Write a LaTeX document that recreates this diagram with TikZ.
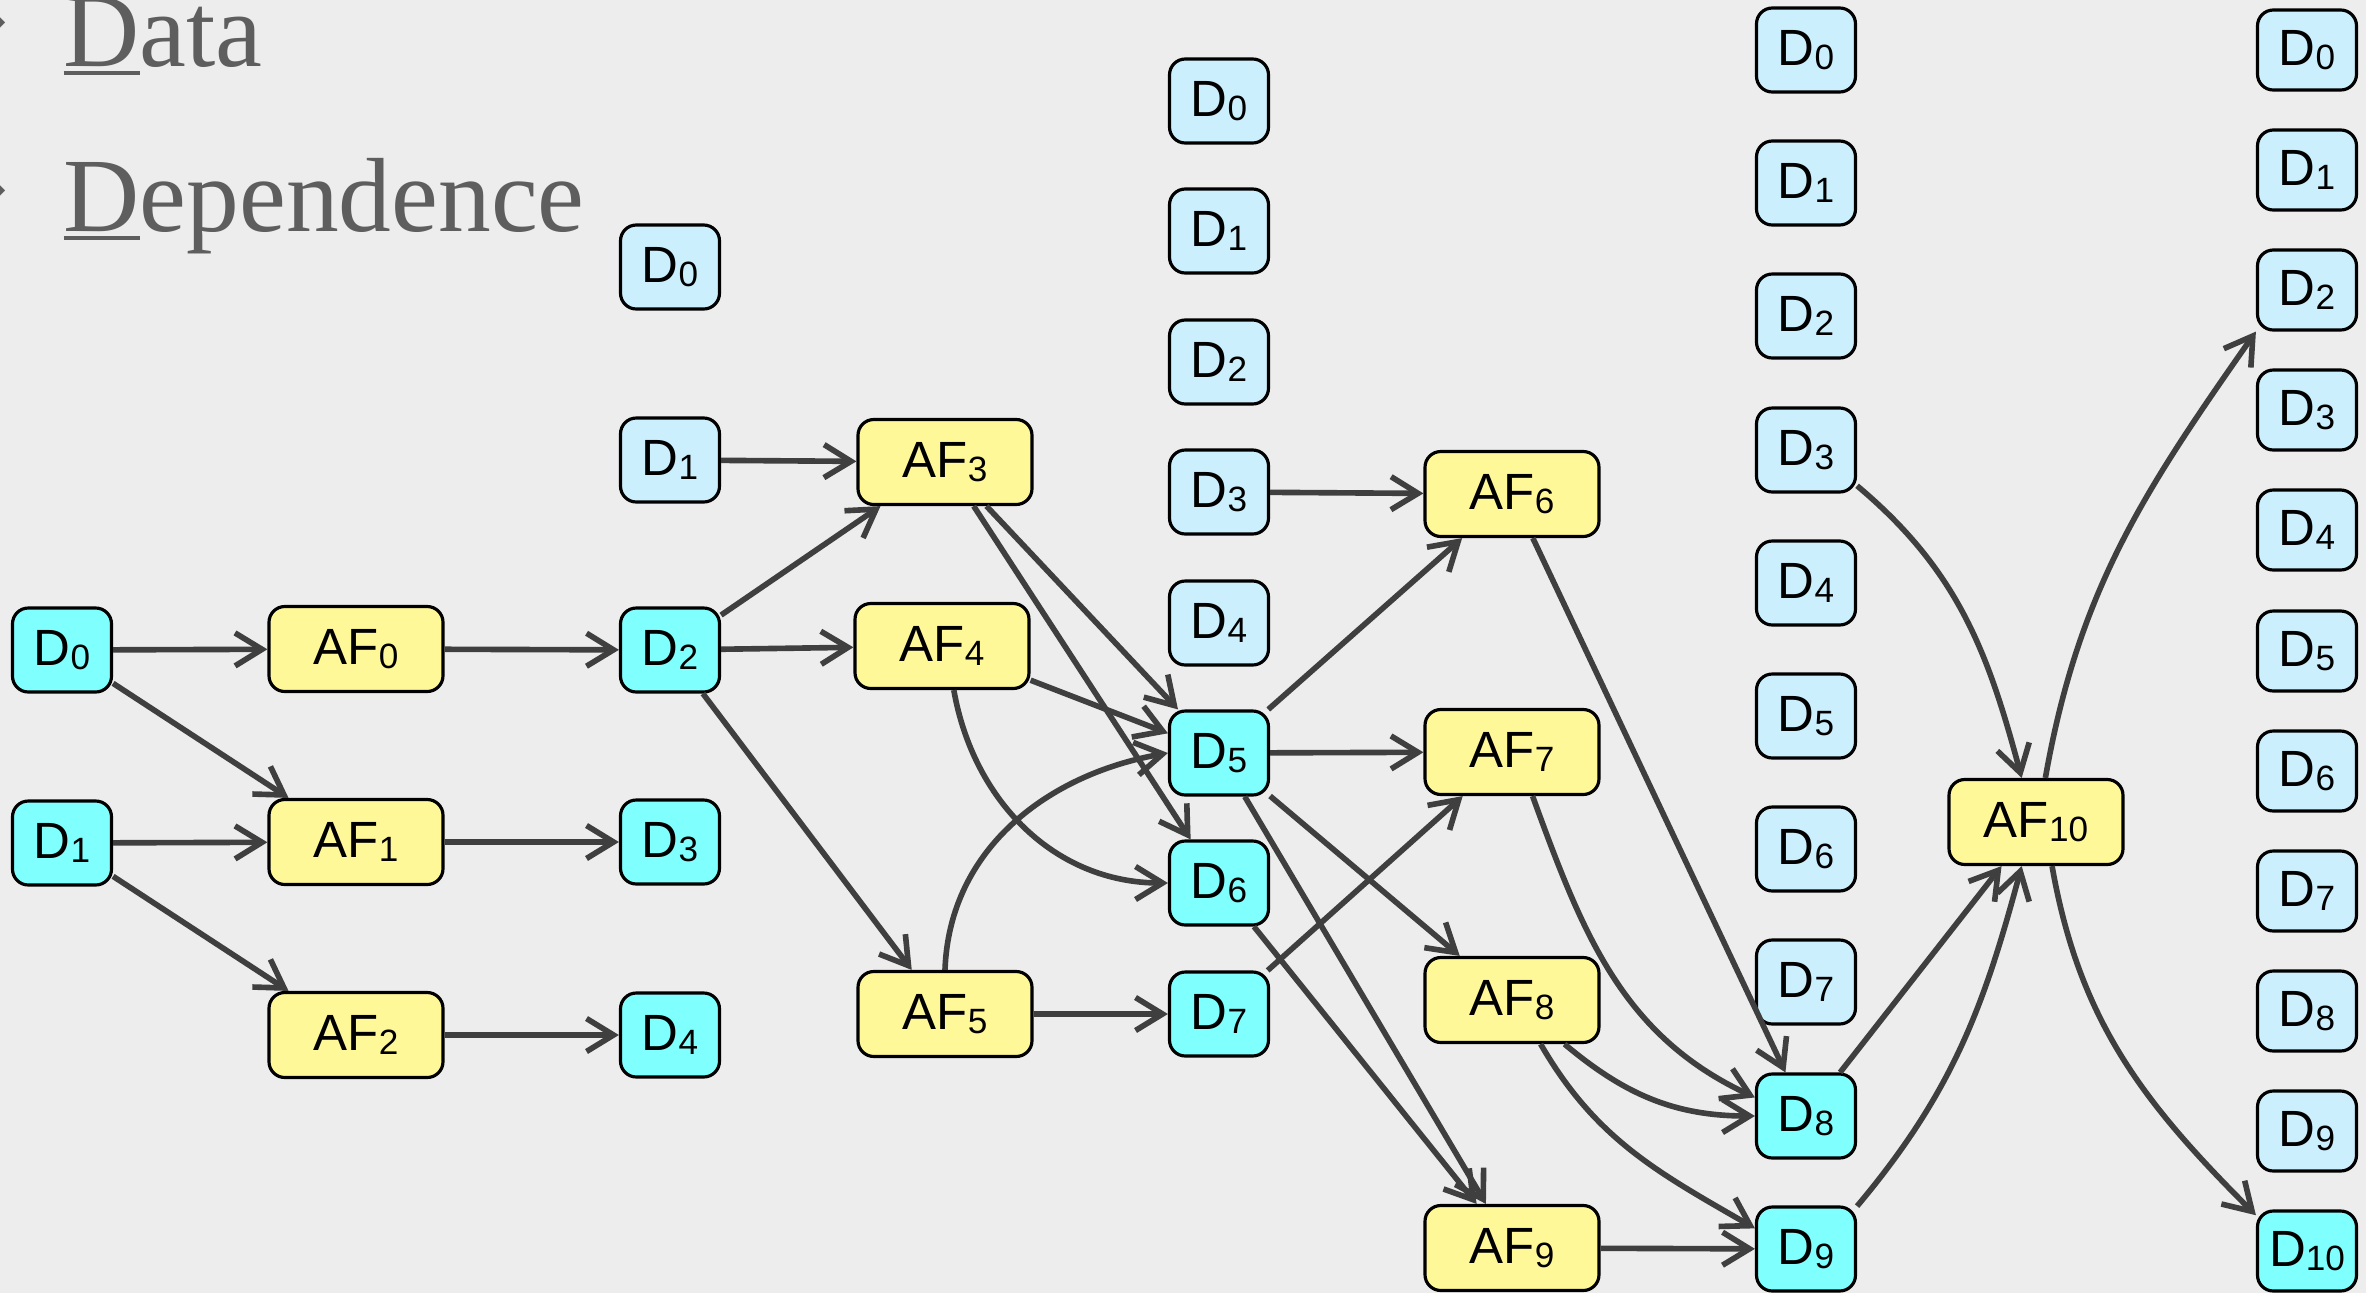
\documentclass[tikz,border=0pt]{standalone}
\usepackage{fontspec}
\setmainfont{Liberation Sans}
\newfontfamily\headfont{Liberation Serif}
\newfontfamily\dingfont{DejaVu Sans}
\usetikzlibrary{arrows.meta}
\definecolor{PaperGray}{HTML}{EDEDED}
\definecolor{DataCyan}{HTML}{80FFFF}
\definecolor{DataPale}{HTML}{CCEFFD}
\definecolor{FuncYellow}{HTML}{FFF899}
\definecolor{EdgeGray}{HTML}{3F3F3F}
\definecolor{HeadGray}{HTML}{5E5E5E}
\newcommand\idx[1]{\raisebox{-1.1pt}{\fontsize{10}{11}\selectfont #1}}
\newcommand\ulfirst[1]{\setbox0\hbox{#1}\rlap{\rule[-0.09cm]{\wd0}{0.04cm}}#1}

\begin{document}
\begin{tikzpicture}[
    every node/.style={font=\fontsize{14.5}{16}\selectfont},
    box/.style={draw, line width=0.9pt, rounded corners=4.5pt,
                align=center, inner sep=0pt},
    live/.style={box, fill=DataCyan,   minimum width=0.99cm, minimum height=0.84cm},
    pale/.style={box, fill=DataPale,   minimum width=0.99cm, minimum height=0.84cm},
    func/.style={box, fill=FuncYellow, minimum width=1.74cm, minimum height=0.85cm},
    head/.style={font=\headfont\fontsize{30}{36}\selectfont, text=HeadGray,
                 anchor=base west, inner sep=0pt},
    arr/.style={-{Straight Barb[length=2.7mm,width=3.3mm]}, line width=1.6pt, draw=EdgeGray},
]

%% Paper
\fill[PaperGray] (0,0) rectangle (23.66,-12.93);
\useasboundingbox (0,0) rectangle (23.66,-12.93);

%% Heading
\node[font=\dingfont\fontsize{20}{20}\selectfont, text=HeadGray] (bul1) at (-0.20,-0.23) {❖};
\node[font=\dingfont\fontsize{20}{20}\selectfont, text=HeadGray] (bul2) at (-0.20,-1.91) {❖};
\node[head] (data) at (0.63,-0.66) {\ulfirst{D}ata};
\node[head] (dep)  at (0.63,-2.31) {\ulfirst{D}ependence};

%% Step 0
\node[live] (s0d0) at (0.62,-6.50) {D\idx{0}};
\node[live] (s0d1) at (0.62,-8.43) {D\idx{1}};

%% AF 0-2
\node[func] (af0) at (3.56,-6.49)  {AF\idx{0}};
\node[func] (af1) at (3.56,-8.42)  {AF\idx{1}};
\node[func] (af2) at (3.56,-10.35) {AF\idx{2}};

%% Step 1
\node[pale] (s1d0) at (6.70,-2.67)  {D\idx{0}};
\node[pale] (s1d1) at (6.70,-4.60)  {D\idx{1}};
\node[live] (s1d2) at (6.70,-6.50)  {D\idx{2}};
\node[live] (s1d3) at (6.70,-8.42)  {D\idx{3}};
\node[live] (s1d4) at (6.70,-10.35) {D\idx{4}};

%% AF 3-5
\node[func] (af3) at (9.45,-4.62)  {AF\idx{3}};
\node[func] (af4) at (9.42,-6.46)  {AF\idx{4}};
\node[func] (af5) at (9.45,-10.14) {AF\idx{5}};

%% Step 2
\node[pale] (s2d0) at (12.19,-1.01)  {D\idx{0}};
\node[pale] (s2d1) at (12.19,-2.31)  {D\idx{1}};
\node[pale] (s2d2) at (12.19,-3.62)  {D\idx{2}};
\node[pale] (s2d3) at (12.19,-4.92)  {D\idx{3}};
\node[pale] (s2d4) at (12.19,-6.23)  {D\idx{4}};
\node[live] (s2d5) at (12.19,-7.53)  {D\idx{5}};
\node[live] (s2d6) at (12.19,-8.83)  {D\idx{6}};
\node[live] (s2d7) at (12.19,-10.14) {D\idx{7}};

%% AF 6-9
\node[func] (af6) at (15.12,-4.94)  {AF\idx{6}};
\node[func] (af7) at (15.12,-7.52)  {AF\idx{7}};
\node[func] (af8) at (15.12,-10.00) {AF\idx{8}};
\node[func] (af9) at (15.12,-12.48) {AF\idx{9}};

%% Step 3
\node[pale] (s3d0) at (18.06,-0.50)  {D\idx{0}};
\node[pale] (s3d1) at (18.06,-1.83)  {D\idx{1}};
\node[pale] (s3d2) at (18.06,-3.16)  {D\idx{2}};
\node[pale] (s3d3) at (18.06,-4.50)  {D\idx{3}};
\node[pale] (s3d4) at (18.06,-5.83)  {D\idx{4}};
\node[pale] (s3d5) at (18.06,-7.16)  {D\idx{5}};
\node[pale] (s3d6) at (18.06,-8.49)  {D\idx{6}};
\node[pale] (s3d7) at (18.06,-9.82)  {D\idx{7}};
\node[live] (s3d8) at (18.06,-11.16) {D\idx{8}};
\node[live] (s3d9) at (18.06,-12.49) {D\idx{9}};

%% AF 10
\node[func] (af10) at (20.36,-8.22) {AF\idx{10}};

%% Step 4
\node[pale, minimum height=0.80cm] (s4d0)  at (23.07,-0.50)  {D\idx{0}};
\node[pale, minimum height=0.80cm] (s4d1)  at (23.07,-1.70)  {D\idx{1}};
\node[pale, minimum height=0.80cm] (s4d2)  at (23.07,-2.90)  {D\idx{2}};
\node[pale, minimum height=0.80cm] (s4d3)  at (23.07,-4.10)  {D\idx{3}};
\node[pale, minimum height=0.80cm] (s4d4)  at (23.07,-5.30)  {D\idx{4}};
\node[pale, minimum height=0.80cm] (s4d5)  at (23.07,-6.51)  {D\idx{5}};
\node[pale, minimum height=0.80cm] (s4d6)  at (23.07,-7.71)  {D\idx{6}};
\node[pale, minimum height=0.80cm] (s4d7)  at (23.07,-8.91)  {D\idx{7}};
\node[pale, minimum height=0.80cm] (s4d8)  at (23.07,-10.11) {D\idx{8}};
\node[pale, minimum height=0.80cm] (s4d9)  at (23.07,-11.31) {D\idx{9}};
\node[live, minimum height=0.80cm] (s4d10) at (23.07,-12.51) {D\idx{10}};

%% Arrows: step 0 -> step 1
\draw[arr] (s0d0) -- (af0);
\draw[arr] (s0d0) -- (af1);
\draw[arr] (s0d1) -- (af1);
\draw[arr] (s0d1) -- (af2);
\draw[arr] (af0) -- (s1d2);
\draw[arr] (af1) -- (s1d3);
\draw[arr] (af2) -- (s1d4);

%% Arrows: step 1 -> step 2
\draw[arr] (s1d1) -- (af3);
\draw[arr] (s1d2) -- (af3);
\draw[arr] (s1d2) -- (af4);
\draw[arr] (s1d2) -- (af5);
\draw[arr] (af3) -- (s2d5);
\draw[arr] (af3) -- (s2d6);
\draw[arr] (af4) -- (s2d5);
\draw[arr] (af4.-75) to[out=-80, in=180] (s2d6.west);
\draw[arr] (af5.north) to[out=88, in=190] (s2d5.west);
\draw[arr] (af5) -- (s2d7);

%% Arrows: step 2 -> step 3
\draw[arr] (s2d3) -- (af6);
\draw[arr] (s2d5) -- (af6);
\draw[arr] (s2d5) -- (af7);
\draw[arr] (s2d5) -- (af8);
\draw[arr] (s2d5) -- (af9);
\draw[arr] (s2d6) -- (af9);
\draw[arr] (s2d7) -- (af7);
\draw[arr] (af6) -- (s3d8);
\draw[arr] (af7.-65) to[out=-70, in=155] (s3d8.160);
\draw[arr] (af8.-40) to[out=-40, in=180] (s3d8.west);
\draw[arr] (af8.-57) to[out=-60, in=150] (s3d9.158);
\draw[arr] (af9) -- (s3d9);

%% Arrows: step 3 -> step 4
\draw[arr] (s3d3.-35) to[out=-40, in=105] (af10.108);
\draw[arr] (s3d8) -- (af10);
\draw[arr] (s3d9.40) to[out=50, in=-105] (af10.-108);
\draw[arr] (af10.78) to[out=80, in=-125] (s4d2.south west);
\draw[arr] (af10.-70) to[out=-80, in=135] (s4d10.145);

\end{tikzpicture}
\end{document}
